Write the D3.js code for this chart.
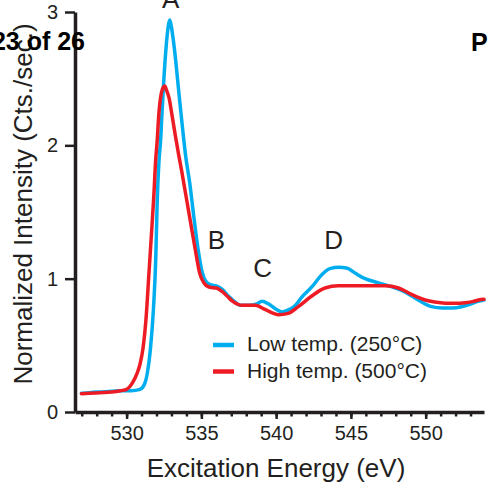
<!DOCTYPE html>
<html>
<head>
<meta charset="utf-8">
<script src="https://cdn.jsdelivr.net/npm/d3@7"></script>
<style>
  html, body { margin: 0; padding: 0; background: #ffffff; }
  svg { display: block; }
  text { font-family: "Liberation Sans", Arial, Helvetica, sans-serif; }
</style>
</head>
<body>
<svg id="chart" width="490" height="496"></svg>
<script>
// O K-edge XAS spectra, normalized intensity vs excitation energy
const lowTempEnergy = [526.98, 527.5, 528.2, 529.0, 529.6, 530.3, 530.9, 531.2, 531.4, 531.6,
  531.8, 531.95, 532.05, 532.17, 532.27, 532.38, 532.5, 532.66, 532.78, 532.88,
  532.98, 533.1, 533.28, 533.5, 533.73, 533.95, 534.22, 534.49, 534.78, 535.05,
  535.3, 535.6, 536.0, 536.4, 536.8, 537.1, 537.6, 538.2, 538.7, 539.05,
  539.5, 540.0, 540.4, 540.9, 541.3, 541.7, 542.4, 543.05, 543.6, 544.2,
  544.7, 545.3, 545.95, 546.8, 547.7, 548.6, 549.5, 550.4, 551.1, 551.8,
  552.4, 553.0, 553.5, 553.9];
const lowTempIntensity = [0.14, 0.145, 0.15, 0.155, 0.16, 0.16, 0.17, 0.21, 0.30, 0.48,
  0.78, 1.15, 1.59, 1.89, 2.03, 2.27, 2.51, 2.76, 2.89, 2.94,
  2.90, 2.81, 2.64, 2.39, 2.14, 1.92, 1.72, 1.47, 1.22, 1.05,
  0.98, 0.955, 0.945, 0.92, 0.87, 0.84, 0.80, 0.80, 0.81, 0.83,
  0.81, 0.77, 0.75, 0.77, 0.80, 0.86, 0.94, 1.03, 1.075, 1.085,
  1.08, 1.04, 1.00, 0.97, 0.94, 0.90, 0.84, 0.79, 0.78, 0.78,
  0.79, 0.81, 0.83, 0.84];

const highTempEnergy = [526.98, 527.5, 528.2, 529.0, 529.6, 530.0, 530.4, 530.7, 530.9, 531.1,
  531.3, 531.5, 531.7, 531.82, 531.95, 532.03, 532.16, 532.32, 532.45, 532.55,
  532.68, 532.83, 533.06, 533.28, 533.48, 533.68, 533.88, 534.22, 534.62, 534.89,
  535.16, 535.56, 536.0, 536.43, 536.8, 537.1, 537.77, 538.58, 539.25, 539.7,
  540.14, 540.81, 541.48, 542.38, 543.27, 544.16, 545.73, 547.29, 548.18, 549.08,
  549.97, 550.6, 551.31, 552.0, 552.65, 553.2, 553.54, 553.9];
const highTempIntensity = [0.137, 0.14, 0.145, 0.15, 0.16, 0.17, 0.22, 0.29, 0.36, 0.48,
  0.70, 1.05, 1.40, 1.62, 1.90, 2.01, 2.24, 2.39, 2.435, 2.445,
  2.41, 2.36, 2.21, 2.06, 1.93, 1.81, 1.68, 1.46, 1.20, 1.04,
  0.97, 0.935, 0.93, 0.90, 0.86, 0.83, 0.80, 0.80, 0.77, 0.745,
  0.73, 0.74, 0.79, 0.87, 0.93, 0.946, 0.946, 0.946, 0.93, 0.88,
  0.84, 0.825, 0.816, 0.815, 0.82, 0.83, 0.84, 0.845];

const seriesNames = ["Low temp. (250°C)", "High temp. (500°C)"];
const seriesColors = ["#00aeef", "#ed1c24"];

const xMajorTicks = [530, 535, 540, 545, 550];
const xMinorTicks = d3.range(527, 554);
const yTicks = [0, 1, 2, 3];

const peakLabels = ["A", "B", "C", "D"];
const peakEnergy = [532.95, 536.0, 539.1, 543.85];
const peakLevel = [3.03, 1.22, 1.01, 1.22];

const ink = "#231f20";
const svg = d3.select("#chart");

const x = d3.scaleLinear().domain([526.55, 553.9]).range([75, 484]);
const y = d3.scaleLinear().domain([0, 3]).range([412, 12]);

// minor x ticks (every 1 eV)
svg.append("g")
  .attr("transform", `translate(0,${y(0)})`)
  .call(d3.axisBottom(x).tickValues(xMinorTicks).tickSize(4.5).tickFormat(""))
  .call(g => g.select(".domain").remove())
  .call(g => g.selectAll("line").attr("stroke", ink).attr("stroke-width", 2.5));

// major x ticks with labels
const xAxis = svg.append("g")
  .attr("transform", `translate(0,${y(0)})`)
  .call(d3.axisBottom(x).tickValues(xMajorTicks).tickSize(7).tickSizeOuter(0).tickFormat(d3.format("d")));
xAxis.select(".domain").attr("stroke", ink).attr("stroke-width", 3.5);
xAxis.selectAll("line").attr("stroke", ink).attr("stroke-width", 2.5);
xAxis.selectAll("text")
  .attr("y", 28).attr("dy", 0)
  .attr("fill", ink)
  .style("font-size", "20px")
  .style("font-family", "'Liberation Sans', Arial, sans-serif");

// y axis
const yAxis = svg.append("g")
  .attr("transform", `translate(${x.range()[0]},0)`)
  .call(d3.axisLeft(y).tickValues(yTicks).tickSize(10).tickSizeOuter(0).tickPadding(7).tickFormat(d3.format("d")));
yAxis.select(".domain").attr("stroke", ink).attr("stroke-width", 3.5);
yAxis.selectAll("line").attr("stroke", ink).attr("stroke-width", 2.5);
yAxis.selectAll("text")
  .attr("fill", ink)
  .style("font-size", "20px")
  .style("font-family", "'Liberation Sans', Arial, sans-serif");

// axis titles
svg.append("text")
  .attr("x", 276).attr("y", 477)
  .attr("text-anchor", "middle")
  .attr("fill", ink)
  .style("font-size", "26px")
  .text("Excitation Energy (eV)");

svg.append("text")
  .attr("transform", "translate(32,204) rotate(-90)")
  .attr("text-anchor", "middle")
  .attr("fill", ink)
  .style("font-size", "26px")
  .text("Normalized Intensity (Cts./sec.)");

// spectra
const line = d3.line()
  .x(d => x(d[0]))
  .y(d => y(d[1]))
  .curve(d3.curveMonotoneX);

const series = [
  d3.zip(lowTempEnergy, lowTempIntensity),
  d3.zip(highTempEnergy, highTempIntensity)
];

svg.append("g")
  .selectAll("path")
  .data(series)
  .join("path")
  .attr("d", line)
  .attr("fill", "none")
  .attr("stroke", (d, i) => seriesColors[i])
  .attr("stroke-width", 3.5)
  .attr("stroke-linejoin", "round")
  .attr("stroke-linecap", "round");

// peak labels
svg.append("g")
  .selectAll("text")
  .data(peakLabels)
  .join("text")
  .attr("x", (d, i) => x(peakEnergy[i]))
  .attr("y", (d, i) => y(peakLevel[i]))
  .attr("text-anchor", "middle")
  .attr("fill", ink)
  .style("font-size", "26px")
  .text(d => d);

// legend
const legend = svg.append("g");
seriesNames.forEach((name, i) => {
  const ly = 345 + i * 26.5;
  legend.append("line")
    .attr("x1", 213).attr("x2", 234)
    .attr("y1", ly).attr("y2", ly)
    .attr("stroke", seriesColors[i])
    .attr("stroke-width", 4.5);
  legend.append("text")
    .attr("x", 247).attr("y", ly + 6)
    .attr("fill", ink)
    .style("font-size", "21px")
    .text(name);
});

// page header overlay
svg.append("text")
  .attr("x", 85).attr("y", 50)
  .attr("text-anchor", "end")
  .attr("fill", "#000")
  .style("font-size", "25px")
  .style("font-weight", "bold")
  .text("23 of 26");

svg.append("text")
  .attr("x", 471).attr("y", 51)
  .attr("fill", "#000")
  .style("font-size", "25px")
  .style("font-weight", "bold")
  .text("P");
</script>
</body>
</html>
